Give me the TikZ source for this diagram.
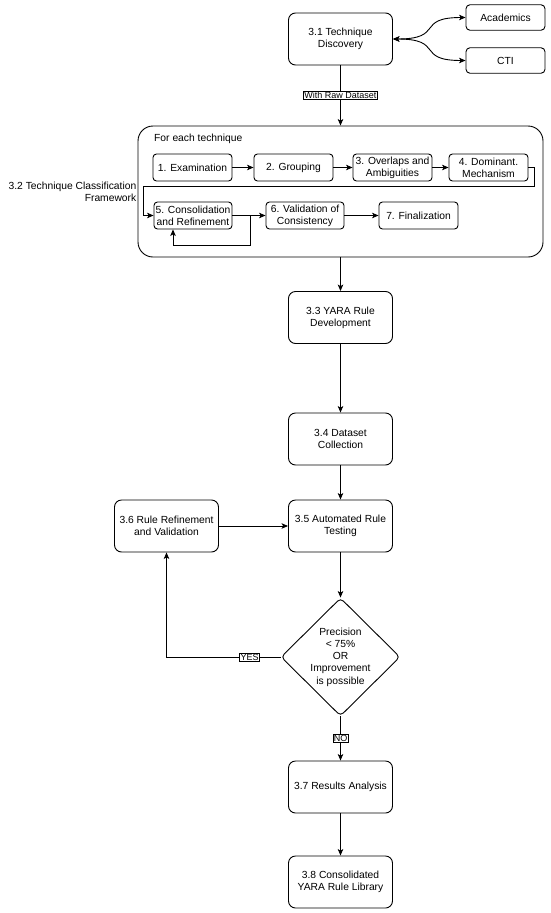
\documentclass[tikz,border=0pt]{standalone}
\usepackage{fontspec}
\setmainfont{Liberation Sans}
\usetikzlibrary{shapes.geometric,arrows.meta}
\tikzset{
  base/.style={line width=0.9pt},
  mainbox/.style={base, draw, rounded corners=7pt, minimum width=104pt, minimum height=52pt,
    align=center, inner sep=1pt, font=\fontsize{10.3}{12.3}\selectfont},
  inbox/.style={base, draw, rounded corners=3.5pt, minimum width=79pt, minimum height=27pt,
    align=center, inner sep=0.5pt, font=\fontsize{10.3}{12}\selectfont},
  srcbox/.style={base, draw, rounded corners=4pt, minimum width=79pt, minimum height=25.5pt,
    align=center, inner sep=0.5pt, font=\fontsize{10.3}{12}\selectfont},
  arr/.style={base, -{Stealth[length=6.5pt,width=5.5pt,inset=1.6pt]}},
  arrboth/.style={base, {Stealth[length=6.5pt,width=5.5pt,inset=1.6pt]}-{Stealth[length=6.5pt,width=5.5pt,inset=1.6pt]}},
  lab/.style={draw, line width=0.5pt, fill=white, inner sep=0.8pt, font=\fontsize{9}{9.5}\selectfont},
  plain/.style={font=\fontsize{10.3}{12.3}\selectfont, inner sep=0pt}
}
\begin{document}
\begin{tikzpicture}[x=1pt,y=-1pt]
\useasboundingbox (0,0) rectangle (550,913);

% top
\node[mainbox] (n31) at (340.5,39) {3.1 Technique\\Discovery};
\node[srcbox] (acad) at (505.5,17.5) {Academics};
\node[srcbox] (cti) at (505.5,60.5) {CTI};
\draw[arrboth] (n31.east) .. controls (445,39) and (415,17.5) .. (acad.west);
\draw[arrboth] (n31.east) .. controls (445,39) and (415,60.5) .. (cti.west);

% container
\node[base, draw, rounded corners=15pt, minimum width=405pt, minimum height=131pt] (cont) at (340.5,191.5) {};
\node[plain, anchor=west] (fet) at (154,139) {For each technique};
\node[plain, anchor=east, align=right] (lbl32) at (136.5,192) {3.2 Technique Classification\\Framework};

\draw[arr] (n31) -- node[lab] {With Raw Dataset} (cont.north);

\node[inbox] (s1) at (192.5,167.5) {1. Examination};
\node[inbox] (s2) at (293.5,167.5) {2. Grouping};
\node[inbox] (s3) at (392.5,167.5) {3. Overlaps and\\Ambiguities};
\node[inbox] (s4) at (488.5,167.5) {4. Dominant.\\Mechanism};
\node[inbox, minimum width=78pt] (s5) at (193,215.5) {5. Consolidation\\and Refinement};
\node[inbox, minimum width=78pt] (s6) at (305,215.5) {6. Validation of\\Consistency};
\node[inbox] (s7) at (418.5,215.5) {7. Finalization};

\draw[arr] (s1) -- (s2);
\draw[arr] (s2) -- (s3);
\draw[arr] (s3) -- (s4);
\coordinate (w1) at (534,186);
\coordinate (w2) at (143,186);
\draw[arr] (s4.east) -| (w1) -- (w2) |- (s5.west);
\draw[arr] (s5.east) -- (s6.west);
\draw[arr] (s6) -- (s7);
\coordinate (lp1) at (250,245);
\coordinate (lp2) at (173,245);
\draw[arr] (s5.east) -| (lp1) -- (lp2) -- (lp2 |- s5.south);

% main chain
\node[mainbox] (n33) at (340.5,317.5) {3.3 YARA Rule\\Development};
\node[mainbox] (n34) at (340.5,439) {3.4 Dataset\\Collection};
\node[mainbox] (n35) at (340.5,526) {3.5 Automated Rule\\Testing};
\node[mainbox] (n36) at (166.5,526) {3.6 Rule Refinement\\and Validation};
\node[base, draw, diamond, rounded corners=4pt, minimum width=119pt, minimum height=118pt, inner sep=0pt] (dm) at (340.5,657) {};
\node[plain, align=center] (dmt) at (340.5,657) {Precision\\< 75\%\\OR\\Improvement\\is possible};
\node[mainbox] (n37) at (340.5,787) {3.7 Results Analysis};
\node[mainbox] (n38) at (340.5,882) {3.8 Consolidated\\YARA Rule Library};

\draw[arr] (cont.south) -- (n33);
\draw[arr] (n33) -- (n34);
\draw[arr] (n34) -- (n35);
\draw[arr] (n36) -- (n35);
\draw[arr] (n35) -- (dm.north);
\draw[arr] (dm.west) -| node[lab, pos=0.136] {YES} (n36.south);
\draw[arr] (dm.south) -- node[lab] {NO} (n37);
\draw[arr] (n37) -- (n38);
\end{tikzpicture}
\end{document}
